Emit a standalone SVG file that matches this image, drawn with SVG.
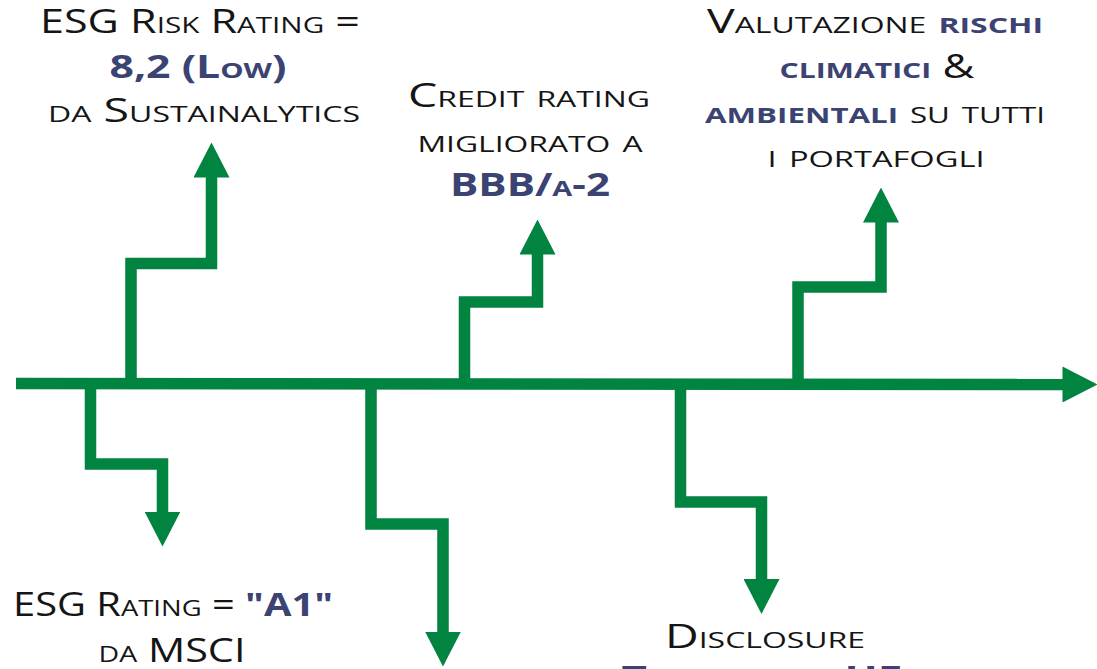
<svg xmlns="http://www.w3.org/2000/svg" width="1097" height="669" viewBox="0 0 1097 669">
<style>
  .ln { fill: none; stroke: #00843F; stroke-width: 11.5; stroke-linejoin: miter; stroke-linecap: butt; }
  .t { font-family: "Open Sans", "Liberation Sans", sans-serif; font-weight: 400; font-size: 32px; font-variant: small-caps; fill: #151515; text-anchor: middle; }
  .b { font-weight: 700; fill: #3A4372; }
</style>
<defs>
  <marker id="ah" markerUnits="userSpaceOnUse" markerWidth="35" markerHeight="36" viewBox="0 0 35 36" refX="0.5" refY="18" orient="auto">
    <path d="M0,0 L35,18 L0,36 Z" fill="#00843F"/>
  </marker>
</defs>
<rect width="1097" height="669" fill="#ffffff"/>
<g id="connectors">
  <path class="ln" d="M16,383.5 L1063,384.5" marker-end="url(#ah)"/>
  <path class="ln" d="M131,384 V263.5 H211.5 V177" marker-end="url(#ah)"/>
  <path class="ln" d="M90.5,383 V464 H162.5 V512" marker-end="url(#ah)"/>
  <path class="ln" d="M371,383 V524 H443 V632" marker-end="url(#ah)"/>
  <path class="ln" d="M464.5,384 V302 H537.5 V254" marker-end="url(#ah)"/>
  <path class="ln" d="M680.5,384 V502 H761.5 V579.5" marker-end="url(#ah)"/>
  <path class="ln" d="M798,384 V287 H881 V222" marker-end="url(#ah)"/>
</g>
<g id="node-sustainalytics">
  <text class="t" x="200" y="33" textLength="320" lengthAdjust="spacingAndGlyphs">ESG Risk Rating =</text>
  <text class="t b" x="198" y="78" textLength="177" lengthAdjust="spacingAndGlyphs">8,2 (Low)</text>
  <text class="t" x="204" y="122" textLength="312" lengthAdjust="spacingAndGlyphs">da Sustainalytics</text>
</g>
<g id="node-msci">
  <text class="t" x="173" y="616" textLength="320" lengthAdjust="spacingAndGlyphs">ESG Rating = <tspan class="b">"A1"</tspan></text>
  <text class="t" x="172" y="662" textLength="147" lengthAdjust="spacingAndGlyphs">da MSCI</text>
</g>
<g id="node-credit">
  <text class="t" x="529" y="107" textLength="242" lengthAdjust="spacingAndGlyphs">Credit rating</text>
  <text class="t" x="530" y="152" textLength="225" lengthAdjust="spacingAndGlyphs">migliorato a</text>
  <text class="t b" x="530" y="196" textLength="160" lengthAdjust="spacingAndGlyphs">BBB/a-2</text>
</g>
<g id="node-tassonomia">
  <text class="t" x="765" y="648" textLength="200" lengthAdjust="spacingAndGlyphs">Disclosure</text>
  <text class="t b" x="762" y="689" textLength="281" lengthAdjust="spacingAndGlyphs">Tassonomia UE</text>
</g>
<g id="node-climatici">
  <text class="t" x="875" y="33" textLength="336" lengthAdjust="spacingAndGlyphs">Valutazione <tspan class="b">rischi</tspan></text>
  <text class="t" x="877" y="78" textLength="195" lengthAdjust="spacingAndGlyphs"><tspan class="b">climatici</tspan> &amp;</text>
  <text class="t" x="875" y="123" textLength="340" lengthAdjust="spacingAndGlyphs"><tspan class="b">ambientali</tspan> su tutti</text>
  <text class="t" x="876" y="167" textLength="217" lengthAdjust="spacingAndGlyphs">i portafogli</text>
</g>
</svg>
